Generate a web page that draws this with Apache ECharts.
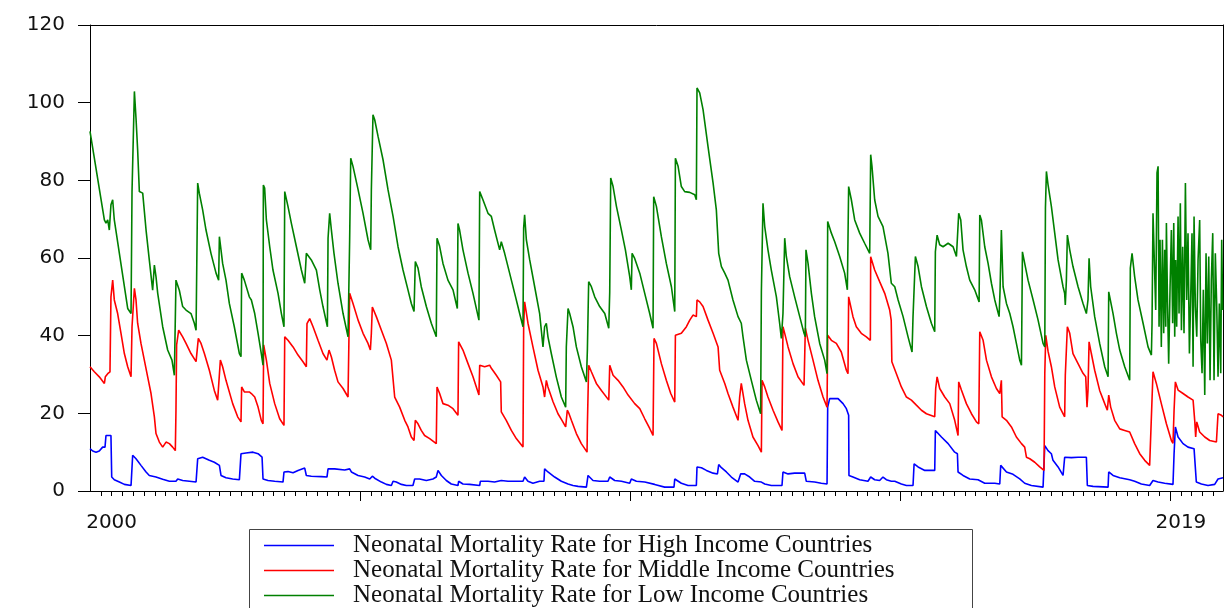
<!DOCTYPE html>
<html>
<head>
<meta charset="utf-8">
<script src="https://cdn.jsdelivr.net/npm/echarts@6.0.0/dist/echarts.min.js"></script>
<style>
  html, body { margin: 0; padding: 0; background: #fff; }
  #chart { width: 1226px; height: 608px; }
</style>
</head>
<body>
<div id="chart"></div>
<script>
// Observation index (1 unit = one minor tick on the horizontal axis) and rate per 1,000 live births.
const seriesNames = [
  'Neonatal Mortality Rate for High Income Countries',
  'Neonatal Mortality Rate for Middle Income Countries',
  'Neonatal Mortality Rate for Low Income Countries'
];

const highIncome = [[0,10.9],[0.25,10.3],[0.56,10.0],[0.86,10.3],[1.17,11.3],[1.39,11.3],[1.48,14.3],[1.94,14.3],[2.01,3.6],[2.25,2.9],[2.72,2.3],[3.18,1.7],[3.80,1.4],[3.95,9.2],[4.26,8.3],[4.72,6.6],[5.19,4.9],[5.49,4.0],[6.11,3.6],[6.73,3.0],[7.35,2.5],[7.96,2.5],[8.12,3.1],[8.58,2.7],[9.20,2.5],[9.82,2.3],[9.97,8.3],[10.43,8.7],[11.05,7.9],[11.51,7.4],[11.98,6.6],[12.13,4.0],[12.59,3.4],[13.21,3.1],[13.83,2.9],[13.98,9.6],[14.44,9.8],[15.09,10.0],[15.56,9.6],[15.93,8.7],[16.02,3.1],[16.48,2.7],[17.10,2.5],[17.87,2.3],[17.96,4.9],[18.33,5.0],[18.80,4.7],[19.26,5.3],[19.88,5.9],[20.03,4.0],[20.49,3.8],[21.42,3.7],[21.94,3.6],[22.04,5.7],[22.65,5.7],[23.58,5.4],[24.04,5.7],[24.20,4.9],[24.82,4.0],[25.43,3.6],[25.90,3.1],[26.14,3.8],[26.36,3.3],[26.98,2.3],[27.44,1.7],[27.90,1.4],[28.06,2.5],[28.36,2.3],[28.83,1.7],[29.29,1.4],[29.90,1.4],[30.06,3.1],[30.52,3.1],[31.14,2.7],[31.75,3.1],[32.06,3.6],[32.22,5.3],[32.53,4.0],[32.99,2.7],[33.45,1.8],[34.07,1.4],[34.13,2.5],[34.53,1.8],[35.15,1.7],[36.08,1.4],[36.14,2.5],[36.85,2.5],[37.46,2.3],[38.08,2.7],[38.70,2.5],[40.09,2.5],[40.24,3.6],[40.55,2.5],[41.01,2.0],[41.63,2.5],[42.03,2.5],[42.09,5.7],[42.40,4.9],[43.02,3.6],[43.64,2.5],[44.26,1.8],[44.72,1.4],[45.19,1.2],[45.96,1.0],[46.11,4.0],[46.57,2.7],[47.19,2.5],[47.96,2.5],[48.12,3.6],[48.58,2.7],[49.20,2.5],[49.97,2.0],[50.12,3.1],[50.59,2.5],[51.36,2.3],[52.28,1.7],[53.21,1.0],[54.07,1.0],[54.14,3.1],[54.75,2.0],[55.37,1.4],[56.14,1.4],[56.20,6.2],[56.61,6.0],[57.07,5.3],[57.69,4.6],[58.09,4.4],[58.21,6.8],[58.46,6.0],[58.92,4.9],[59.38,3.6],[59.53,3.1],[60.00,2.3],[60.15,1.8],[60.24,4.4],[60.61,4.4],[61.08,3.6],[61.54,2.5],[62.16,2.3],[62.47,1.8],[63.08,1.4],[64.07,1.4],[64.16,4.9],[64.63,4.4],[65.24,4.6],[66.17,4.6],[66.32,2.5],[67.09,2.3],[67.71,2.0],[68.24,1.8],[68.30,21.6],[68.48,23.8],[69.26,23.8],[69.72,22.5],[70.03,21.2],[70.24,19.5],[70.27,4.0],[70.64,3.6],[71.26,2.9],[72.03,2.5],[72.28,3.6],[72.65,2.9],[73.11,2.7],[73.42,3.6],[73.73,2.9],[74.19,2.5],[74.51,2.5],[75.12,1.8],[75.59,1.4],[76.20,1.4],[76.30,7.0],[76.42,7.4],[76.67,6.2],[77.29,5.3],[78.21,5.3],[78.27,15.6],[78.43,15.6],[78.83,13.9],[79.45,12.2],[80.06,10.0],[80.31,9.6],[80.37,4.9],[80.83,4.0],[81.45,3.1],[82.22,2.9],[82.38,3.4],[82.84,2.0],[83.77,2.0],[84.23,1.8],[84.32,6.6],[84.85,4.9],[85.46,4.3],[86.08,3.1],[86.54,2.0],[87.16,1.4],[88.24,1.0],[88.40,11.7],[88.70,10.4],[89.01,9.6],[89.16,7.9],[89.63,6.2],[90.09,4.0],[90.24,8.7],[90.86,8.6],[91.48,8.7],[92.25,8.7],[92.34,1.4],[92.87,1.2],[94.26,1.0],[94.32,4.9],[94.72,4.0],[95.34,3.4],[96.26,2.9],[96.72,2.5],[97.34,1.8],[98.11,1.4],[98.42,2.7],[98.89,2.3],[99.50,2.0],[100.27,1.7],[100.37,9.6],[100.49,16.5],[100.74,13.9],[101.20,12.2],[101.66,11.3],[102.22,10.9],[102.43,2.3],[102.90,1.8],[103.51,1.4],[104.13,1.7],[104.44,3.1],[104.9,3.4]];

const middleIncome = [[0,32.0],[0.40,30.7],[0.86,29.4],[1.33,27.7],[1.42,29.4],[1.64,30.2],[1.85,30.7],[1.94,50.0],[2.10,54.3],[2.25,49.2],[2.56,45.7],[2.87,40.6],[3.18,35.4],[3.49,32.0],[3.80,29.4],[3.89,42.3],[4.11,52.2],[4.26,49.2],[4.41,43.2],[4.72,38.0],[5.03,33.7],[5.34,29.4],[5.65,25.1],[5.96,19.1],[6.11,14.8],[6.42,12.6],[6.73,11.3],[7.04,12.6],[7.35,12.2],[7.65,11.3],[7.90,10.4],[7.96,20.8],[8.02,37.6],[8.21,41.4],[8.58,39.7],[8.89,38.0],[9.35,35.4],[9.82,33.3],[10.03,39.3],[10.28,38.0],[10.59,35.4],[11.05,31.1],[11.51,25.9],[11.82,23.4],[11.98,23.8],[12.07,33.7],[12.28,32.0],[12.59,28.5],[13.21,22.5],[13.67,19.1],[13.98,17.8],[14.04,26.8],[14.29,25.5],[14.75,25.5],[14.94,25.1],[15.25,24.2],[15.56,21.6],[15.86,18.2],[16.02,17.3],[16.08,37.6],[16.33,33.7],[16.64,27.7],[17.10,22.5],[17.56,18.6],[17.96,16.9],[18.03,39.7],[18.33,38.8],[18.80,37.1],[19.26,35.0],[19.72,33.3],[20.03,32.0],[20.09,43.1],[20.34,44.4],[20.65,42.3],[21.11,38.8],[21.57,35.4],[21.94,33.7],[22.13,36.3],[22.35,34.5],[22.65,31.1],[22.96,28.1],[23.43,26.4],[23.89,24.2],[24.04,50.9],[24.35,48.3],[24.82,44.0],[25.28,40.6],[25.74,38.0],[25.96,36.3],[26.05,40.6],[26.14,47.4],[26.51,44.9],[26.98,41.4],[27.44,38.0],[27.90,33.7],[28.21,24.2],[28.67,21.6],[29.14,18.2],[29.44,16.5],[29.75,13.9],[30.00,13.0],[30.12,18.2],[30.37,17.3],[30.67,15.6],[30.98,14.3],[31.45,13.5],[32.06,12.2],[32.13,26.8],[32.37,25.1],[32.68,22.5],[33.14,22.1],[33.61,21.2],[34.07,19.5],[34.13,38.4],[34.53,36.3],[35.00,32.8],[35.46,29.4],[36.01,24.7],[36.08,32.4],[36.54,32.0],[37.00,32.4],[37.16,31.6],[37.62,29.8],[38.02,28.1],[38.08,20.4],[38.54,18.2],[39.01,15.6],[39.47,13.5],[40.09,11.3],[40.15,42.3],[40.24,48.7],[40.55,43.2],[41.01,37.1],[41.48,31.1],[41.94,26.8],[42.09,24.2],[42.25,28.5],[42.40,26.8],[42.87,23.0],[43.33,19.9],[43.70,18.2],[44.04,16.5],[44.19,20.8],[44.35,19.9],[44.57,18.2],[45.03,14.8],[45.49,12.2],[46.02,10.0],[46.05,16.9],[46.17,32.4],[46.42,30.7],[46.88,27.7],[47.35,25.9],[48.03,23.4],[48.12,32.4],[48.43,29.8],[48.89,28.5],[49.35,26.8],[49.82,24.7],[50.43,22.5],[50.90,21.2],[51.36,18.6],[51.82,16.1],[52.13,14.3],[52.22,39.3],[52.44,38.0],[52.90,32.8],[53.36,28.5],[53.77,25.1],[54.14,22.9],[54.20,40.1],[54.75,40.6],[55.22,42.3],[55.53,44.0],[55.83,45.3],[56.14,44.9],[56.20,49.2],[56.45,48.7],[56.76,47.5],[57.22,44.0],[57.69,40.6],[58.15,37.1],[58.30,31.1],[58.77,27.7],[59.07,25.1],[59.53,21.6],[60.00,18.2],[60.15,24.2],[60.30,27.7],[60.61,22.5],[60.92,18.2],[61.38,13.9],[61.85,11.7],[62.16,10.0],[62.22,28.5],[62.47,26.8],[62.77,24.2],[63.24,20.8],[63.70,17.8],[64.07,15.6],[64.16,42.3],[64.32,40.6],[64.63,37.1],[65.09,32.8],[65.55,29.4],[66.11,27.2],[66.23,41.9],[66.48,38.8],[66.94,33.7],[67.40,28.5],[67.87,24.2],[68.24,21.6],[68.30,40.1],[68.64,38.8],[69.10,38.0],[69.56,35.8],[70.03,31.1],[70.18,30.2],[70.24,50.0],[70.64,44.9],[70.95,42.3],[71.41,40.6],[71.88,39.7],[72.25,38.8],[72.28,60.3],[72.65,56.9],[73.11,53.9],[73.58,50.9],[74.04,46.6],[74.18,44.0],[74.24,33.3],[74.66,30.2],[75.12,26.8],[75.59,24.2],[76.05,23.4],[76.51,22.1],[76.98,20.8],[77.44,19.9],[78.21,19.1],[78.30,26.4],[78.43,29.4],[78.67,26.4],[79.14,24.2],[79.60,22.5],[80.06,18.2],[80.37,14.3],[80.43,28.1],[80.68,26.0],[81.14,22.5],[81.61,19.9],[82.07,17.8],[82.29,17.3],[82.38,41.0],[82.69,38.8],[83.00,33.7],[83.46,29.4],[83.92,26.4],[84.23,25.1],[84.38,28.5],[84.45,19.1],[84.85,18.2],[85.31,16.5],[85.77,13.9],[86.24,12.2],[86.54,11.3],[86.70,8.7],[87.01,8.3],[87.47,7.4],[87.93,6.2],[88.33,5.3],[88.40,30.2],[88.49,40.1],[88.70,36.0],[89.01,32.0],[89.32,26.8],[89.78,21.6],[90.24,19.1],[90.30,29.8],[90.49,42.3],[90.71,40.6],[91.01,35.4],[91.48,32.8],[91.94,30.3],[92.19,29.4],[92.31,21.6],[92.40,25.9],[92.50,38.4],[92.71,35.4],[93.02,31.1],[93.48,25.9],[93.95,22.5],[94.19,20.8],[94.32,24.7],[94.50,21.6],[94.87,18.2],[95.34,16.0],[95.80,15.6],[96.26,15.2],[96.72,12.2],[97.19,9.6],[97.65,7.9],[98.11,6.6],[98.42,30.7],[98.73,27.7],[99.19,22.5],[99.66,17.3],[100.12,13.0],[100.27,12.3],[100.37,20.8],[100.49,28.1],[100.74,26.0],[101.20,25.1],[101.66,24.2],[102.13,23.4],[102.28,18.2],[102.37,13.9],[102.47,17.8],[102.74,15.2],[103.21,13.9],[103.67,13.0],[104.29,12.6],[104.44,19.9],[104.75,19.5],[104.9,19.1]];

const lowIncome = [[0,92.6],[1.33,69.8],[1.48,69.0],[1.64,69.8],[1.79,67.2],[1.94,73.7],[2.10,75.0],[2.25,69.8],[3.49,47.0],[3.80,45.7],[3.89,77.1],[4.11,102.9],[4.26,96.0],[4.41,87.9],[4.57,77.1],[4.88,76.7],[5.19,67.2],[5.49,59.5],[5.80,51.7],[5.96,58.2],[6.11,55.2],[6.27,50.9],[6.73,42.3],[7.19,36.3],[7.59,33.7],[7.81,29.8],[7.96,54.3],[8.27,51.7],[8.58,47.5],[8.89,46.6],[9.35,45.7],[9.66,43.2],[9.82,41.4],[9.97,79.3],[10.12,76.7],[10.43,72.4],[10.74,67.2],[11.20,61.2],[11.67,56.1],[11.91,54.3],[11.98,65.5],[12.13,62.1],[12.28,58.6],[12.59,54.3],[12.90,48.3],[13.36,42.3],[13.83,35.4],[13.98,34.6],[14.04,56.1],[14.29,54.3],[14.75,50.0],[14.94,49.2],[15.25,45.7],[15.56,40.6],[15.86,35.4],[16.02,32.4],[16.05,78.8],[16.17,78.0],[16.33,69.8],[16.64,62.9],[16.94,56.9],[17.41,50.9],[17.72,45.7],[17.96,42.3],[18.03,77.1],[18.33,73.3],[18.64,69.0],[19.11,62.9],[19.57,56.9],[19.88,53.5],[20.03,61.2],[20.19,61.6],[20.49,59.5],[20.96,56.9],[21.27,51.8],[21.57,47.5],[21.98,42.3],[22.04,65.1],[22.19,71.5],[22.35,67.2],[22.59,61.2],[22.96,53.5],[23.43,45.7],[23.89,39.7],[24.04,64.7],[24.14,85.7],[24.35,83.6],[24.82,77.6],[25.28,71.5],[25.74,64.7],[25.99,62.1],[26.05,77.6],[26.20,96.9],[26.36,95.6],[26.67,91.3],[27.13,85.3],[27.59,77.6],[28.06,70.7],[28.52,62.9],[28.98,56.9],[29.44,51.8],[29.75,48.3],[30.00,46.2],[30.12,59.1],[30.37,57.4],[30.67,52.6],[31.14,47.5],[31.60,43.2],[32.06,39.7],[32.13,65.1],[32.37,63.0],[32.68,58.6],[33.14,54.3],[33.61,51.8],[34.01,47.0],[34.07,68.9],[34.22,67.2],[34.53,62.1],[35.00,56.1],[35.46,50.9],[36.01,44.0],[36.08,77.1],[36.38,75.0],[36.85,71.5],[37.16,70.7],[37.46,67.2],[37.93,62.1],[38.08,64.2],[38.24,63.8],[38.39,61.2],[38.85,56.1],[39.32,50.9],[39.78,45.7],[40.09,42.3],[40.15,67.7],[40.24,71.1],[40.40,64.7],[40.71,59.5],[41.17,52.6],[41.63,45.7],[41.94,37.1],[42.09,42.3],[42.25,43.2],[42.40,39.7],[42.71,35.4],[43.17,29.4],[43.64,24.2],[44.04,21.6],[44.10,37.1],[44.26,47.0],[44.41,45.7],[44.72,42.3],[45.03,37.1],[45.49,32.0],[45.96,28.1],[46.05,36.3],[46.17,53.9],[46.42,52.6],[46.73,50.0],[47.19,47.5],[47.66,45.7],[48.03,41.9],[48.12,51.3],[48.21,80.6],[48.43,78.4],[48.74,73.3],[49.20,67.2],[49.57,62.1],[49.97,55.2],[50.12,51.8],[50.19,61.2],[50.43,59.9],[50.90,56.1],[51.36,50.9],[51.82,45.7],[52.13,41.9],[52.19,75.8],[52.44,73.3],[52.90,65.5],[53.36,58.6],[53.83,52.6],[54.14,46.2],[54.20,85.7],[54.45,83.6],[54.75,78.4],[55.06,77.1],[55.53,76.9],[55.99,76.3],[56.14,75.0],[56.20,103.8],[56.45,102.5],[56.76,98.2],[57.22,88.7],[57.69,79.3],[57.99,72.4],[58.21,61.2],[58.46,57.8],[58.77,56.1],[59.07,54.3],[59.53,49.2],[60.00,44.9],[60.30,43.2],[60.46,39.7],[60.77,33.7],[61.23,28.5],[61.69,23.4],[62.09,19.9],[62.16,51.3],[62.31,74.1],[62.47,68.1],[62.77,62.1],[63.08,56.9],[63.55,50.0],[63.85,43.2],[64.01,39.3],[64.16,45.7],[64.32,65.1],[64.47,60.4],[64.78,55.2],[65.24,50.0],[65.71,44.9],[66.11,40.6],[66.23,39.7],[66.29,62.1],[66.48,58.6],[66.79,50.9],[67.09,44.9],[67.56,38.0],[68.02,33.7],[68.24,30.2],[68.30,69.4],[68.64,66.4],[68.95,64.2],[69.41,60.4],[69.87,56.1],[70.12,51.8],[70.24,78.4],[70.49,75.0],[70.80,69.8],[71.26,66.4],[71.72,63.8],[72.19,61.2],[72.28,86.6],[72.40,83.6],[72.65,75.0],[72.96,70.7],[73.42,68.1],[73.88,61.2],[74.19,53.5],[74.51,52.6],[74.82,49.2],[75.28,44.9],[75.74,39.7],[76.11,35.8],[76.20,44.9],[76.42,60.4],[76.67,57.8],[76.98,52.6],[77.44,47.5],[77.90,43.2],[78.21,41.0],[78.27,61.6],[78.43,65.9],[78.67,63.4],[78.98,62.9],[79.45,63.8],[79.91,62.9],[80.22,60.4],[80.37,59.9],[80.43,71.5],[80.62,69.8],[80.83,62.1],[81.14,57.8],[81.45,54.3],[81.91,51.8],[82.32,48.7],[82.38,71.1],[82.53,69.8],[82.84,62.9],[83.15,58.6],[83.46,53.5],[83.77,49.2],[84.17,44.9],[84.26,51.8],[84.38,67.2],[84.54,52.6],[84.85,48.3],[85.16,45.7],[85.46,42.3],[85.77,38.0],[86.08,33.7],[86.24,32.4],[86.33,61.6],[86.54,58.6],[86.85,54.3],[87.32,49.2],[87.78,44.0],[88.24,38.0],[88.40,37.1],[88.46,72.8],[88.55,82.3],[88.70,78.9],[89.01,73.3],[89.32,66.4],[89.63,59.5],[90.09,52.6],[90.24,50.9],[90.30,47.9],[90.40,54.3],[90.49,65.9],[90.71,62.1],[91.01,57.8],[91.48,52.6],[91.94,48.3],[92.25,45.7],[92.40,49.2],[92.50,59.9],[92.65,52.6],[93.02,44.9],[93.48,38.0],[93.95,32.0],[94.26,29.4],[94.32,51.3],[94.50,50.9],[94.72,45.7],[95.03,40.6],[95.34,36.3],[95.80,32.0],[96.26,28.5],[96.32,57.4],[96.48,61.2],[96.72,55.2],[97.03,49.2],[97.50,43.2],[97.96,37.1],[98.27,35.0],[98.33,43.2],[98.42,71.5],[98.58,71.9],[98.67,46.6],[98.79,81.9],[98.89,83.6],[98.98,42.3],[99.07,64.7],[99.19,37.1],[99.29,64.7],[99.41,40.6],[99.50,62.1],[99.60,42.3],[99.66,69.0],[99.75,50.9],[99.87,32.8],[100.00,52.6],[100.12,67.2],[100.24,43.2],[100.34,69.0],[100.43,39.7],[100.52,59.5],[100.61,42.3],[100.74,70.7],[100.83,45.7],[100.95,74.1],[101.05,41.4],[101.17,62.9],[101.29,40.6],[101.42,79.3],[101.54,49.2],[101.66,66.4],[101.79,35.4],[101.91,50.0],[102.03,66.4],[102.13,32.0],[102.22,70.7],[102.34,47.5],[102.47,39.7],[102.59,59.5],[102.74,69.8],[102.84,38.8],[102.96,30.3],[103.08,51.8],[103.21,24.7],[103.33,61.2],[103.45,38.0],[103.58,60.4],[103.70,28.5],[103.82,54.3],[103.95,66.4],[104.07,28.5],[104.19,61.2],[104.32,47.5],[104.44,29.4],[104.56,48.3],[104.69,30.3],[104.78,64.7],[104.87,46.6]];

// Horizontal axis: minor ticks every observation step, major ticks every 25, year labels at the ends.
const obsMax = 104.9;
const minorTicks = [];
for (let i = 1; i <= 104; i++) minorTicks.push(i);
const majorTicks = [25, 50, 75, 100];
const yearTickObs = [2, 101];
const yearTickLabels = ['2000', '2019'];

// Vertical axis
const yMin = 0, yMax = 120, yStep = 20;

const lineColors = ['#0000ff', '#ff0000', '#008000'];
const axisFont = 'DejaVu Sans';
const legendFont = 'Liberation Serif';

const chart = echarts.init(document.getElementById('chart'), null, { renderer: 'canvas' });

const plainAxis = {
  type: 'value', min: 0, max: obsMax,
  splitLine: { show: false }
};

const option = {
  animation: false,
  backgroundColor: '#ffffff',
  grid: { left: 90, right: 3, top: 25, bottom: 117, containLabel: false },
  xAxis: [
    Object.assign({}, plainAxis, {
      position: 'bottom',
      axisLine: { show: true, onZero: false, lineStyle: { color: '#000', width: 1 } },
      axisTick: { show: true, inside: false, length: 5, customValues: minorTicks, lineStyle: { color: '#000', width: 1 } },
      axisLabel: {
        show: true, customValues: yearTickObs, margin: 22,
        formatter: function (v) { const k = yearTickObs.indexOf(v); return k >= 0 ? yearTickLabels[k] : ''; },
        fontFamily: axisFont, fontSize: 20, color: '#111'
      }
    }),
    Object.assign({}, plainAxis, {
      position: 'bottom',
      axisLine: { show: false, onZero: false },
      axisTick: { show: true, inside: false, length: 10, customValues: majorTicks, lineStyle: { color: '#000', width: 1 } },
      axisLabel: { show: false }
    }),
    Object.assign({}, plainAxis, {
      position: 'top',
      axisLine: { show: true, onZero: false, lineStyle: { color: '#000', width: 1 } },
      axisTick: { show: false },
      axisLabel: { show: false }
    })
  ],
  yAxis: [
    {
      type: 'value', min: yMin, max: yMax, interval: yStep, position: 'left',
      axisLine: { show: true, onZero: false, lineStyle: { color: '#000', width: 1 } },
      axisTick: { show: true, inside: false, length: 12, lineStyle: { color: '#000', width: 1 } },
      axisLabel: { margin: 25, fontFamily: axisFont, fontSize: 20, color: '#111' },
      splitLine: { show: false }
    },
    {
      type: 'value', min: yMin, max: yMax, interval: yStep, position: 'right',
      axisLine: { show: true, onZero: false, lineStyle: { color: '#000', width: 1 } },
      axisTick: { show: false },
      axisLabel: { show: false },
      splitLine: { show: false }
    }
  ],
  graphic: [
    {
      type: 'rect', left: 247, top: 527, silent: true,
      shape: { width: 723, height: 100 },
      style: { fill: 'none', stroke: '#444', lineWidth: 1 }
    }
  ],
  legend: {
    orient: 'vertical', left: 247, top: 527,
    padding: [6, 0, 0, 17],
    selectedMode: false,
    icon: 'rect', itemWidth: 70, itemHeight: 1.5, itemGap: 0,
    textStyle: { fontFamily: legendFont, fontSize: 25, color: '#111', lineHeight: 23.5, padding: [0, 0, 0, 14] },
    data: seriesNames
  },
  series: [
    { name: seriesNames[0], data: highIncome, color: lineColors[0] },
    { name: seriesNames[1], data: middleIncome, color: lineColors[1] },
    { name: seriesNames[2], data: lowIncome, color: lineColors[2] }
  ].map(function (s) {
    return {
      name: s.name, type: 'line', xAxisIndex: 0, yAxisIndex: 0,
      data: s.data, showSymbol: false, symbol: 'none', silent: true,
      itemStyle: { color: s.color },
      lineStyle: { color: s.color, width: 1.6 }
    };
  })
};

chart.setOption(option);
</script>
</body>
</html>
